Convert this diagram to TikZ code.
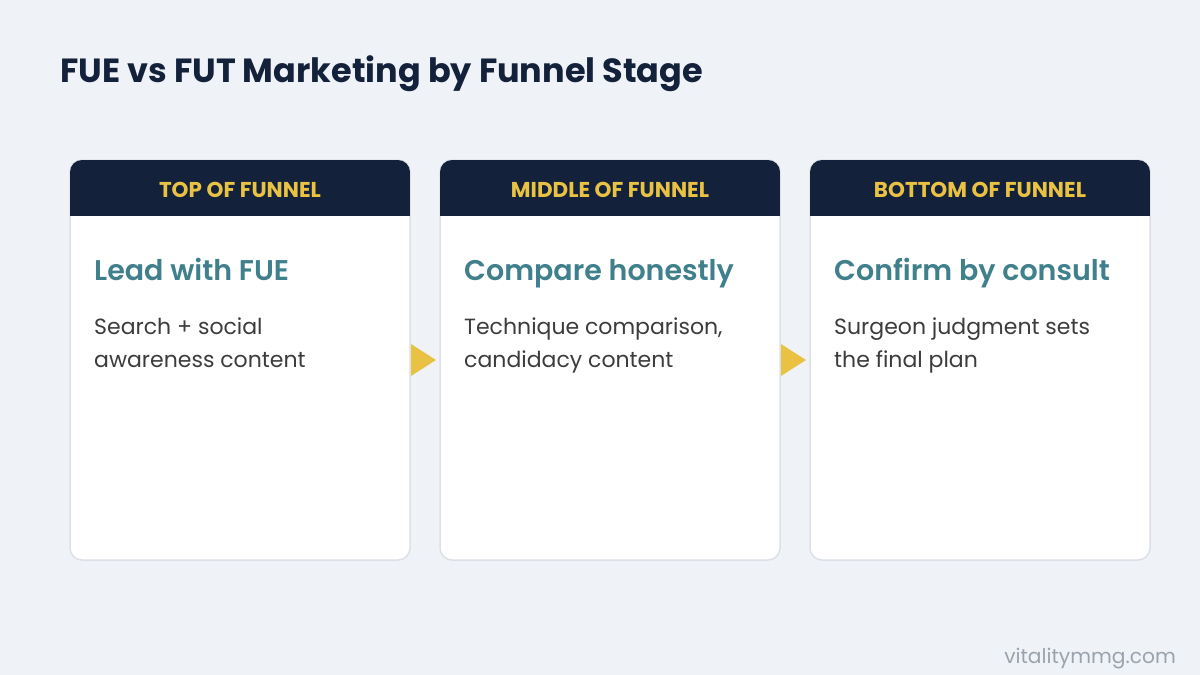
\documentclass[tikz,border=0pt]{standalone}
\usepackage{fontspec}
\setmainfont{Poppins}
\newfontfamily\semibold{Poppins}[UprightFont=* SemiBold]
\usetikzlibrary{positioning, calc}

\definecolor{pagebg}{HTML}{EFF3F7}
\definecolor{navy}{HTML}{13213B}
\definecolor{gold}{HTML}{E9C244}
\definecolor{teal}{HTML}{3F808C}
\definecolor{bodytext}{HTML}{3C3C3C}
\definecolor{cardline}{HTML}{DCE1E7}
\definecolor{footgray}{HTML}{9AA3AD}

\begin{document}
\begin{tikzpicture}[
    x=1pt, y=-1pt,
    card/.style={rectangle, rounded corners=12pt, fill=white, draw=cardline, line width=1.5pt, minimum width=340pt, minimum height=400pt, inner sep=0pt, outer sep=0pt},
    stagelabel/.style={font=\bfseries\fontsize{21.5}{24}\selectfont, text=gold, inner sep=0pt},
    cardtitle/.style={anchor=base west, font=\semibold\fontsize{28.5}{32}\selectfont, text=teal, inner sep=0pt},
    cardbody/.style={anchor=base west, font=\fontsize{22}{33}\selectfont, text=bodytext, align=left, inner sep=0pt},
    pointer/.style={fill=gold}
]
    \useasboundingbox[fill=pagebg] (0,0) rectangle (1200,675);

    % Title
    \node[anchor=base west, inner sep=0pt, font=\bfseries\fontsize{33.5}{38}\selectfont, text=navy] (heading) at (60,82) {FUE vs FUT Marketing by Funnel Stage};

    % Cards
    \node[card] (top) at (240,360) {};
    \node[card] (middle) at (610,360) {};
    \node[card] (bottom) at (980,360) {};

    % Headers
    \begin{scope}
        \clip[rounded corners=12pt] (top.north west) rectangle (top.south east);
        \fill[navy] (top.north west) rectangle ($(top.north east)+(0,56)$);
    \end{scope}
    \begin{scope}
        \clip[rounded corners=12pt] (middle.north west) rectangle (middle.south east);
        \fill[navy] (middle.north west) rectangle ($(middle.north east)+(0,56)$);
    \end{scope}
    \begin{scope}
        \clip[rounded corners=12pt] (bottom.north west) rectangle (bottom.south east);
        \fill[navy] (bottom.north west) rectangle ($(bottom.north east)+(0,56)$);
    \end{scope}
    \node[stagelabel] (topstage) at ($(top.north)+(0,29.5)$) {TOP OF FUNNEL};
    \node[stagelabel] (middlestage) at ($(middle.north)+(0,29.5)$) {MIDDLE OF FUNNEL};
    \node[stagelabel] (bottomstage) at ($(bottom.north)+(0,29.5)$) {BOTTOM OF FUNNEL};

    % Card contents (body anchor sits on the last line)
    \node[cardtitle] (toptitle) at ($(top.north west)+(24,120)$) {Lead with FUE};
    \node[cardbody] (topbody) at ($(top.north west)+(24,207)$) {Search + social\\awareness content};
    \node[cardtitle] (middletitle) at ($(middle.north west)+(24,120)$) {Compare honestly};
    \node[cardbody] (middlebody) at ($(middle.north west)+(24,207)$) {Technique comparison,\\candidacy content};
    \node[cardtitle] (bottomtitle) at ($(bottom.north west)+(24,120)$) {Confirm by consult};
    \node[cardbody] (bottombody) at ($(bottom.north west)+(24,207)$) {Surgeon judgment sets\\the final plan};

    % Pointers
    \fill[pointer] ($(top.east)+(1,-16)$) -- ($(top.east)+(26,0)$) -- ($(top.east)+(1,16)$) -- cycle;
    \fill[pointer] ($(middle.east)+(1,-16)$) -- ($(middle.east)+(26,0)$) -- ($(middle.east)+(1,16)$) -- cycle;

    % Footer
    \node[anchor=base east, inner sep=0pt, font=\fontsize{20.2}{24}\selectfont, text=footgray] (site) at (1176,663) {vitalitymmg.com};
\end{tikzpicture}
\end{document}
